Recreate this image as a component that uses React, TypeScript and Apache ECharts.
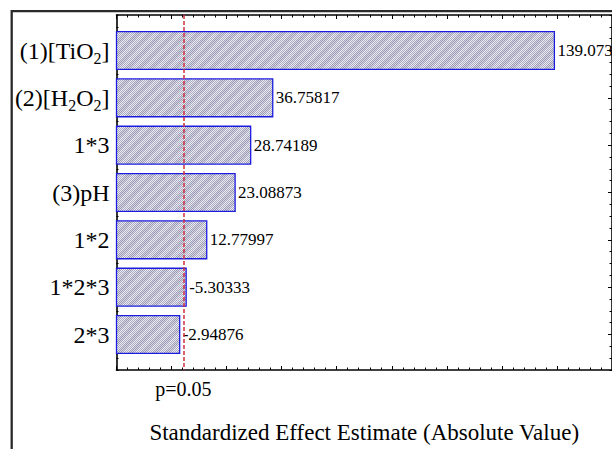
import React, { useEffect, useRef } from 'react';
import * as echarts from 'echarts';

// ---- data ----
const categories: string[] = ['(1)[TiO2]', '(2)[H2O2]', '1*3', '(3)pH', '1*2', '1*2*3', '2*3'];
const categoryRich: string[] = [
  '{a|(1)[TiO}{s|2}{a|]}',
  '{a|(2)[H}{s|2}{a|O}{s|2}{a|]}',
  '{a|1*3}',
  '{a|(3)pH}',
  '{a|1*2}',
  '{a|1*2*3}',
  '{a|2*3}',
];
const effects: number[] = [139.073, 36.75817, 28.74189, 23.08873, 12.77997, -5.30333, -2.94876];
const pValueLine = 4.303;
const pLabel = 'p=0.05';
const xTitle = 'Standardized Effect Estimate (Absolute Value)';
const xMin = -20;
const xMax = 160;
const xInterval = 20;

const FONT = 'Liberation Serif';

function makePattern() {
  const size = 12;
  const c = document.createElement('canvas');
  c.width = size;
  c.height = size;
  const ctx = c.getContext('2d')!;
  for (let x = 0; x < size; x++) {
    for (let y = 0; y < size; y++) {
      const checker = (x + y) % 2 === 0 ? 0 : 1;
      const band = (x + y) % size < 6;
      let col: string;
      if (band) col = checker ? '#d6d6e2' : '#9c9cb6';
      else col = checker ? '#ededf2' : '#a9a9c1';
      ctx.fillStyle = col;
      ctx.fillRect(x, y, 1, 1);
    }
  }
  return c;
}

export default function App() {
  const ref = useRef<HTMLDivElement>(null);
  useEffect(() => {
    document.body.style.margin = '0';
    const chart = echarts.init(ref.current!, null, { renderer: 'svg' });
    const canvas = makePattern();
    const pattern: any = { image: canvas, repeat: 'repeat', imageWidth: 12, imageHeight: 12 };
    const positions = categories.map((_, i) => i + 1);
    const plotData = effects.map((e, i) => [Math.abs(e), i + 1]);
    const valueLabels = effects.map((e) => String(e));
    const barHalf = 0.4;

    const yBase: any = {
      type: 'value',
      inverse: true,
      min: 0.25,
      max: 7.75,
      splitLine: { show: false },
    };
    const xBase: any = {
      type: 'value',
      min: xMin,
      max: xMax,
      interval: xInterval,
      splitLine: { show: false },
      axisLine: { show: true, onZero: false, lineStyle: { color: '#000', width: 1.6 } },
      axisTick: { show: true, inside: true, length: 4, lineStyle: { color: '#000', width: 1 } },
      minorTick: { show: true, splitNumber: 5, length: 2.5, lineStyle: { color: '#000', width: 1 } },
    };

    const option: any = {
      animation: false,
      backgroundColor: '#fff',
      grid: { left: 116.5, top: 15, width: 496, height: 372.3, containLabel: false },
      xAxis: [
        {
          ...xBase,
          position: 'bottom',
          axisLabel: {
            show: true,
            customValues: [pValueLine],
            formatter: () => pLabel,
            fontFamily: FONT,
            fontSize: 20,
            color: '#000',
            margin: 9,
          },
          name: xTitle,
          nameLocation: 'middle',
          nameGap: 51,
          nameTextStyle: { fontFamily: FONT, fontSize: 23, color: '#000' },
        },
        { ...xBase, position: 'top', axisLabel: { show: false } },
      ],
      yAxis: [
        {
          ...yBase,
          position: 'left',
          axisLine: { show: true, onZero: false, lineStyle: { color: '#000', width: 1.6 } },
          axisTick: { show: true, inside: true, length: 4, customValues: positions, lineStyle: { color: '#000', width: 1 } },
          axisLabel: {
            show: true,
            customValues: positions,
            margin: 7,
            formatter: (v: number) => categoryRich[Math.round(v) - 1] || '',
            rich: {
              a: { fontFamily: FONT, fontSize: 24, lineHeight: 32, color: '#000' },
              s: { fontFamily: FONT, fontSize: 16, lineHeight: 16, verticalAlign: 'bottom', color: '#000' },
            },
          },
        },
        {
          ...yBase,
          position: 'left',
          interval: 0.25,
          axisLine: { show: false, onZero: false },
          axisTick: { show: true, inside: true, length: 2, lineStyle: { color: '#000', width: 1 } },
          axisLabel: { show: false },
        },
        {
          ...yBase,
          position: 'right',
          axisLine: { show: true, onZero: false, lineStyle: { color: '#000', width: 1.6 } },
          axisTick: { show: true, inside: true, length: 4, customValues: positions, lineStyle: { color: '#000', width: 1 } },
          axisLabel: { show: false },
        },
        {
          ...yBase,
          position: 'right',
          interval: 0.25,
          axisLine: { show: false, onZero: false },
          axisTick: { show: true, inside: true, length: 2.5, lineStyle: { color: '#000', width: 1 } },
          axisLabel: { show: false },
        },
      ],
      series: [
        {
          type: 'custom',
          xAxisIndex: 0,
          yAxisIndex: 0,
          data: plotData,
          encode: { x: 0, y: 1 },
          renderItem: (params: any, api: any) => {
            const v = api.value(0);
            const y = api.value(1);
            const s = api.coord([xMin, y - barHalf]);
            const e = api.coord([v, y + barHalf]);
            const top = Math.min(s[1], e[1]);
            const h = Math.abs(e[1] - s[1]);
            return {
              type: 'group',
              children: [
                {
                  type: 'rect',
                  shape: { x: s[0], y: top, width: e[0] - s[0], height: h },
                  style: { fill: pattern, stroke: '#1c1ce0', lineWidth: 1.3 },
                },
                {
                  type: 'text',
                  x: e[0] + 3,
                  y: top + h / 2,
                  style: {
                    text: valueLabels[params.dataIndex],
                    fontFamily: FONT,
                    fontSize: 17,
                    fill: '#000',
                    align: 'left',
                    verticalAlign: 'middle',
                  },
                },
              ],
            };
          },
          markLine: {
            silent: true,
            symbol: 'none',
            label: { show: false },
            lineStyle: { color: '#d0303f', type: [4, 2], width: 1.5 },
            data: [{ xAxis: pValueLine }],
          },
        },
      ],
      graphic: [
        {
          type: 'rect',
          shape: { x: 11.7, y: 11.2, width: 900, height: 900 },
          style: { fill: 'none', stroke: '#2a2a2a', lineWidth: 2.3 },
          silent: true,
        },
      ],
    };
    chart.setOption(option);
    return () => chart.dispose();
  }, []);
  return <div ref={ref} style={{ width: 612, height: 449 }} />;
}
